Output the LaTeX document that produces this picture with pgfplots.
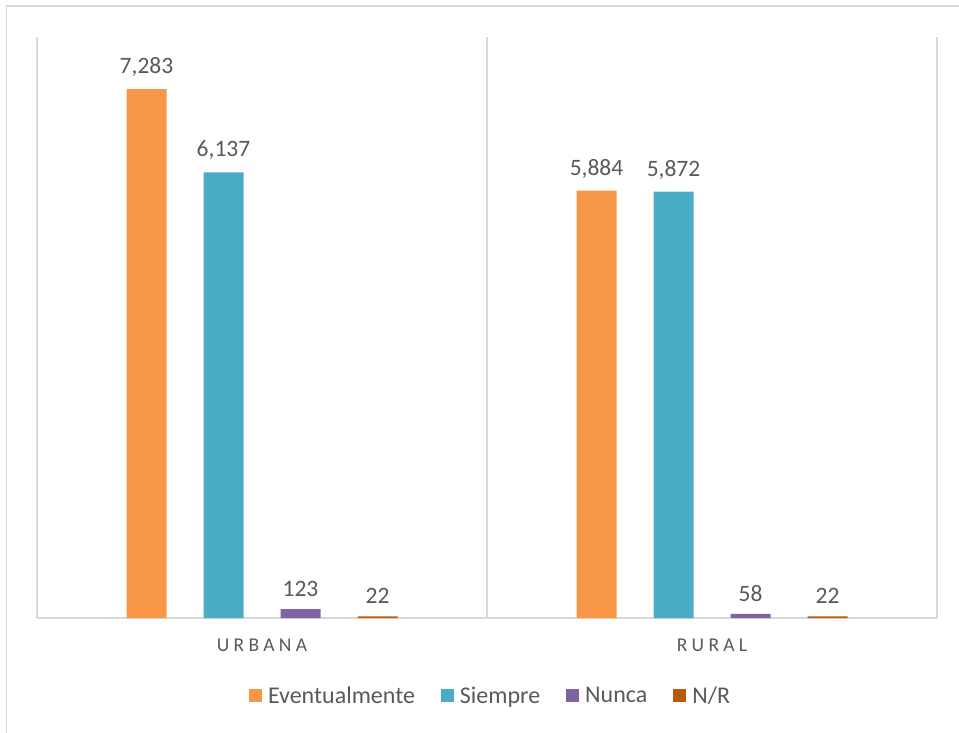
\documentclass[border=0pt]{standalone}
\usepackage{pgfplots}
\pgfplotsset{compat=1.18}
\usepackage{fontspec}
\setmainfont{Carlito}
\definecolor{cEv}{HTML}{F79646}
\definecolor{cSi}{HTML}{4BACC6}
\definecolor{cNu}{HTML}{8064A2}
\definecolor{cNR}{HTML}{B85A0A}
\definecolor{txt}{HTML}{595959}
\definecolor{lin}{HTML}{D9D9D9}
\begin{document}
\begin{tikzpicture}
\useasboundingbox (0pt,0pt) rectangle (959pt,732pt);
\draw[lin, line width=1.5pt] (6.5pt,-10pt) -- (6.5pt,726pt) -- (975pt,726pt);
\begin{axis}[
  at={(37pt,114pt)}, anchor=south west,
  scale only axis, width=900pt, height=581pt,
  ymin=0, ymax=8000, xmin=-0.5, xmax=1.5,
  ybar=37pt, bar width=40pt,
  axis y line=none,
  axis x line*=bottom,
  x axis line style={lin, line width=1.2pt, -},
  xtick={0,1},
  xticklabels={{\addfontfeature{LetterSpace=22}URBANA},{\addfontfeature{LetterSpace=22}RURAL}},
  x tick label style={font=\fontsize{19.5}{22}\selectfont, text=txt, yshift=-17pt},
  major tick length=0pt,
  extra x ticks={-0.5,0.5,1.5},
  extra x tick labels={},
  extra x tick style={grid=major, major grid style={lin, line width=1.2pt}},
  nodes near coords,
  /pgf/number format/.cd, 1000 sep={,}, assume math mode=true, /pgfplots/.cd,
  every node near coord/.append style={font=\fontsize{23.5}{26}\selectfont, text=txt, yshift=9pt},
  legend columns=4,
  legend style={at={(0.504,-0.134)}, anchor=center, draw=none, fill=none,
    font=\fontsize{24}{28}\selectfont, text=txt,
    /tikz/every odd column/.append style={column sep=4pt},
    /tikz/every even column/.append style={column sep=24pt}},
  legend image code/.code={\fill[#1, draw=none] (0pt,-6.5pt) rectangle (13pt,6.5pt);},
]
\addplot[fill=cEv, draw=none] coordinates {(0,7283) (1,5884)};
\addplot[fill=cSi, draw=none] coordinates {(0,6137) (1,5872)};
\addplot[fill=cNu, draw=none] coordinates {(0,123) (1,58)};
\addplot[fill=cNR, draw=none] coordinates {(0,22) (1,22)};
\legend{Eventualmente,Siempre,Nunca,N/R}
\end{axis}
\end{tikzpicture}
\end{document}
